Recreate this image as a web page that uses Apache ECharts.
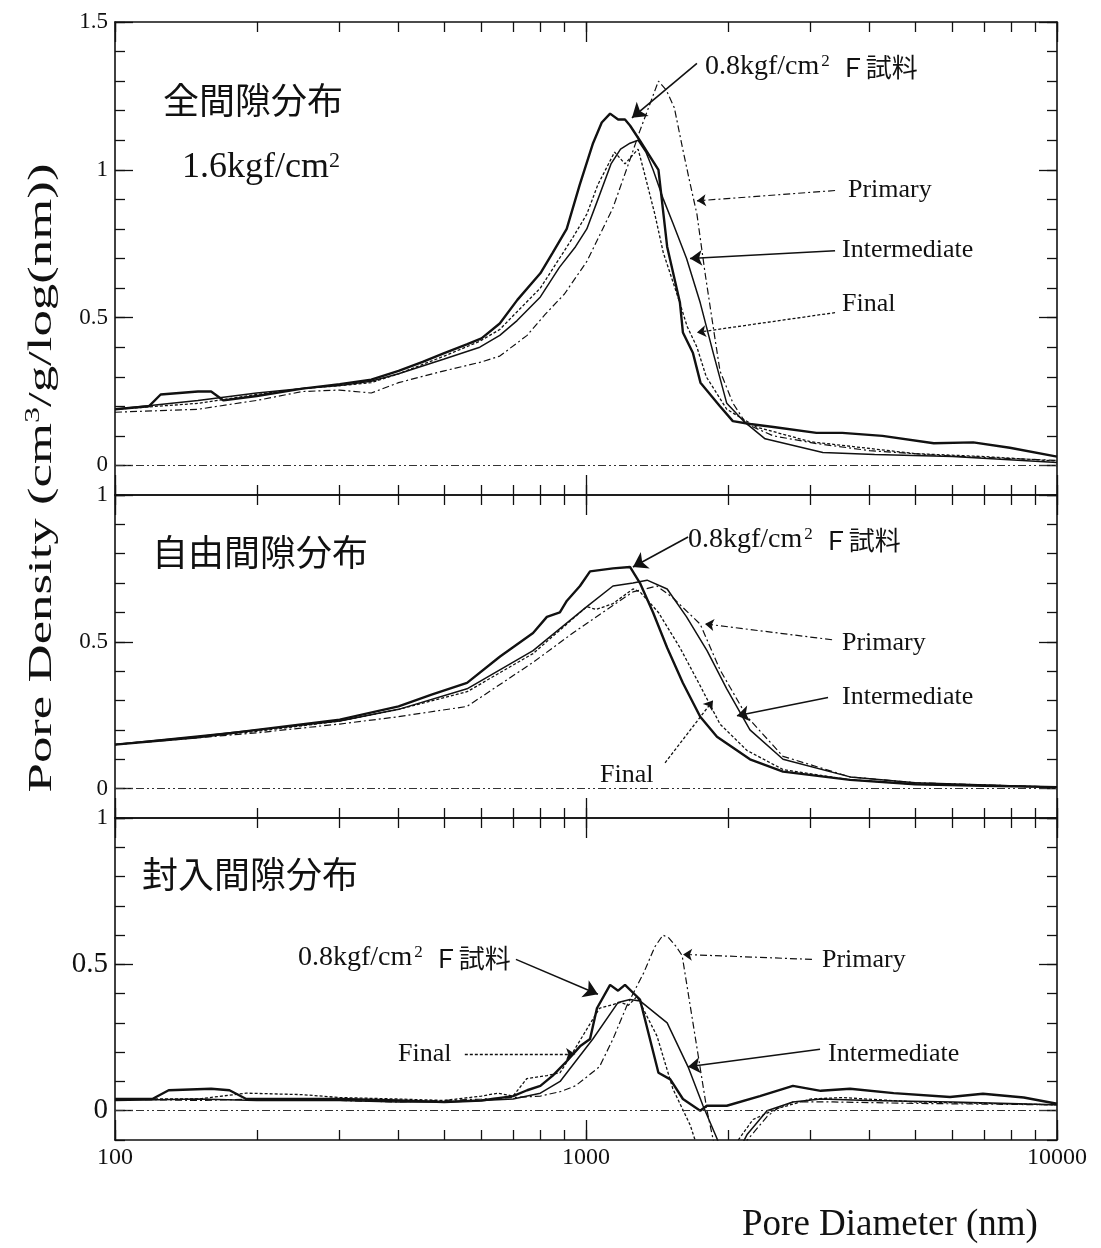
<!DOCTYPE html>
<html>
<head>
<meta charset="utf-8">
<script src="https://cdn.jsdelivr.net/npm/echarts@6.0.0/dist/echarts.min.js"></script>
<style>
html, body { margin: 0; padding: 0; background: #fff; }
#main { width: 1101px; height: 1248px; }
</style>
</head>
<body>
<div id="main"></div>
<script>
// pore density curves (x: pore diameter nm, y: density)
var totalF08 = [[100,0.19],[118,0.20],[125,0.24],[150,0.25],[160,0.25],[170,0.22],[200,0.235],[250,0.26],[300,0.275],[350,0.29],[400,0.32],[450,0.35],[500,0.38],[560,0.41],[600,0.43],[656,0.48],[715,0.56],[800,0.65],[850,0.72],[910,0.80],[970,0.95],[1035,1.09],[1080,1.16],[1125,1.19],[1170,1.17],[1210,1.17],[1240,1.15],[1300,1.10],[1425,1.0],[1487,0.74],[1583,0.55],[1606,0.45],[1687,0.38],[1750,0.28],[1925,0.20],[2050,0.15],[2230,0.14],[2500,0.13],[3085,0.11],[3500,0.11],[4260,0.10],[5475,0.075],[6640,0.078],[7940,0.06],[10000,0.03]];
var totalPrimary = [[100,0.18],[150,0.19],[200,0.22],[250,0.25],[300,0.255],[350,0.245],[400,0.28],[500,0.32],[600,0.35],[656,0.37],[750,0.44],[818,0.51],[900,0.58],[1004,0.69],[1140,0.87],[1237,1.03],[1300,1.13],[1425,1.30],[1480,1.27],[1540,1.21],[1600,1.08],[1660,0.96],[1720,0.85],[1790,0.65],[1870,0.45],[1925,0.32],[2052,0.21],[2190,0.14],[2500,0.10],[3085,0.074],[4000,0.05],[5600,0.034],[7500,0.025],[10000,0.017]];
var totalIntermediate = [[100,0.19],[150,0.22],[200,0.245],[250,0.26],[300,0.27],[350,0.285],[400,0.31],[500,0.36],[595,0.40],[656,0.44],[714,0.49],[800,0.57],[878,0.67],[950,0.74],[1004,0.80],[1060,0.90],[1130,1.02],[1184,1.07],[1240,1.09],[1290,1.10],[1340,1.06],[1388,1.00],[1460,0.90],[1529,0.82],[1635,0.70],[1748,0.55],[1863,0.38],[1990,0.21],[2160,0.15],[2400,0.09],[3183,0.044],[4100,0.037],[6000,0.03],[10000,0.01]];
var totalFinal = [[100,0.19],[150,0.21],[200,0.24],[250,0.26],[300,0.27],[350,0.28],[400,0.31],[500,0.37],[595,0.42],[656,0.46],[714,0.52],[800,0.60],[878,0.70],[937,0.77],[1004,0.85],[1060,0.95],[1150,1.06],[1210,1.02],[1290,1.07],[1325,1.0],[1400,0.85],[1459,0.72],[1560,0.58],[1640,0.47],[1720,0.40],[1800,0.30],[1990,0.19],[2300,0.13],[3000,0.08],[5000,0.04],[7000,0.03],[10000,0.015]];

var freeF08 = [[100,0.15],[150,0.175],[200,0.20],[300,0.235],[400,0.28],[470,0.32],[559,0.36],[657,0.45],[772,0.53],[826,0.585],[880,0.60],[911,0.64],[971,0.69],[1020,0.74],[1141,0.75],[1240,0.755],[1302,0.70],[1388,0.60],[1487,0.48],[1606,0.36],[1748,0.245],[1897,0.177],[2229,0.10],[2620,0.058],[3636,0.03],[5000,0.015],[7000,0.01],[10000,0.005]];
var freePrimary = [[100,0.15],[200,0.19],[300,0.22],[400,0.245],[559,0.28],[772,0.43],[938,0.53],[1108,0.61],[1258,0.67],[1415,0.69],[1529,0.65],[1748,0.56],[1925,0.405],[2197,0.245],[2620,0.11],[3636,0.04],[5000,0.02],[10000,0.005]];
var freeIntermediate = [[100,0.15],[200,0.20],[300,0.23],[400,0.27],[559,0.34],[772,0.47],[1004,0.62],[1141,0.69],[1258,0.70],[1348,0.71],[1487,0.68],[1635,0.585],[1807,0.47],[1990,0.34],[2229,0.20],[2620,0.10],[3636,0.04],[5000,0.02],[10000,0.005]];
var freeFinal = [[100,0.15],[200,0.195],[300,0.23],[400,0.27],[559,0.33],[772,0.46],[1004,0.62],[1050,0.61],[1141,0.63],[1258,0.68],[1302,0.67],[1425,0.60],[1583,0.48],[1748,0.35],[1925,0.22],[2197,0.13],[2620,0.065],[3636,0.03],[5000,0.015],[10000,0.005]];

var sealedF08 = [[100,0.04],[120,0.04],[130,0.07],[160,0.075],[175,0.07],[190,0.04],[300,0.04],[400,0.035],[500,0.03],[600,0.035],[700,0.05],[750,0.07],[800,0.085],[850,0.12],[911,0.17],[971,0.22],[1020,0.245],[1055,0.35],[1125,0.43],[1170,0.41],[1210,0.43],[1302,0.38],[1425,0.13],[1510,0.107],[1606,0.04],[1748,0.0],[1805,0.017],[1990,0.017],[2340,0.05],[2750,0.085],[3150,0.068],[3636,0.075],[4500,0.06],[5926,0.047],[6963,0.058],[8500,0.045],[10000,0.024]];
var sealedPrimary = [[100,0.04],[150,0.035],[200,0.04],[300,0.035],[400,0.03],[500,0.035],[600,0.04],[700,0.045],[800,0.05],[881,0.065],[950,0.085],[1068,0.15],[1141,0.245],[1222,0.36],[1325,0.47],[1400,0.56],[1457,0.60],[1500,0.59],[1555,0.56],[1600,0.53],[1687,0.30],[1807,0.0],[1863,-0.1],[1900,-0.2],[2100,-0.2],[2200,-0.1],[2423,-0.02],[2544,0.007],[2750,0.03],[3345,0.03],[5000,0.025],[10000,0.02]];
var sealedIntermediate = [[100,0.035],[150,0.04],[200,0.035],[300,0.035],[400,0.03],[500,0.03],[600,0.035],[700,0.04],[800,0.06],[881,0.10],[1034,0.245],[1170,0.37],[1240,0.38],[1302,0.375],[1487,0.30],[1647,0.15],[1772,0.017],[1897,-0.095],[1950,-0.15],[2090,-0.15],[2200,-0.08],[2423,0.0],[2750,0.03],[3150,0.04],[4000,0.035],[6000,0.03],[10000,0.02]];
var sealedFinal = [[100,0.04],[150,0.04],[190,0.06],[250,0.055],[300,0.045],[400,0.04],[500,0.035],[600,0.05],[650,0.06],[700,0.05],[749,0.11],[826,0.12],[881,0.13],[938,0.20],[1068,0.35],[1184,0.37],[1230,0.36],[1283,0.39],[1415,0.255],[1529,0.075],[1665,-0.05],[1720,-0.12],[2000,-0.15],[2262,-0.03],[2544,0.007],[3000,0.04],[3500,0.045],[5000,0.03],[10000,0.02]];

// annotation arrows (label end -> curve), same order as series: F08, Primary, Intermediate, Final
var totalArrows = [[[1720,1.36],[1252,1.176]], [[3379,0.93],[1720,0.895]], [[3379,0.726],[1663,0.70]], [[3379,0.517],[1720,0.45]]];
var freeArrows = [[[1647,0.857],[1258,0.755]], [[3330,0.507],[1789,0.561]], [[3265,0.31],[2092,0.248]], [[1472,0.088],[1860,0.30]]];
var sealedArrows = [[[710,0.517],[1060,0.398]], [[3018,0.517],[1607,0.534]], [[3140,0.21],[1647,0.15]], [[553,0.194],[948,0.194]]];

var seriesNames = ['0.8kgf/cm² F試料', 'Primary', 'Intermediate', 'Final'];
var xMinorTicks = [100,200,300,400,500,600,700,800,900,1000,2000,3000,4000,5000,6000,7000,8000,9000,10000];
var xMajorTicks = [100,1000,10000];
var xLabels = [100,1000,10000];
var yMinorTicks = [-0.1,0,0.1,0.2,0.3,0.4,0.5,0.6,0.7,0.8,0.9,1,1.1,1.2,1.3,1.4,1.5];
var yMajorTicks = [0,0.5,1,1.5];

var SERIF = '"Liberation Serif", "DejaVu Serif", serif';
var CJK = '"Noto Sans CJK JP", "Noto Sans CJK SC", sans-serif';
var INK = '#111';

var panels = [
  { top: 22, height: 473, yMax: 1.5, data: [totalF08, totalPrimary, totalIntermediate, totalFinal], arrows: totalArrows },
  { top: 495, height: 323, yMax: 1, data: [freeF08, freePrimary, freeIntermediate, freeFinal], arrows: freeArrows },
  { top: 818, height: 322, yMax: 1, data: [sealedF08, sealedPrimary, sealedIntermediate, sealedFinal], arrows: sealedArrows }
];

var lineLooks = [
  { width: 2.4, type: 'solid', head: 14 },
  { width: 1.2, type: [7, 3, 2, 3], head: 9 },
  { width: 1.5, type: 'solid', head: 12 },
  { width: 1.3, type: [3, 2], head: 9 }
];

var grids = [], xAxes = [], yAxes = [], series = [];

function xAxisDef(gi, pos, ticks, len, showLine, labels) {
  return {
    type: 'log', logBase: 10, gridIndex: gi, position: pos, min: 100, max: 10000,
    axisLine: { show: showLine, onZero: false, lineStyle: { color: INK, width: 1.6 } },
    axisTick: { show: true, inside: true, length: len, customValues: ticks, lineStyle: { color: INK, width: 1.3 } },
    axisLabel: labels ? {
      show: true, customValues: labels, fontFamily: SERIF, fontSize: 24, color: INK, margin: 6,
      formatter: function (v) { return String(Math.round(v)); }
    } : { show: false },
    splitLine: { show: false }
  };
}

function yAxisDef(gi, pos, yMax, ticks, len, showLine, withLabels) {
  var labelVals = yMajorTicks.filter(function (v) { return v <= yMax; });
  var label = { show: false };
  if (withLabels) {
    label = {
      show: true, customValues: labelVals, fontFamily: SERIF, color: INK, margin: 7, fontSize: 22,
      formatter: function (v) {
        if (gi === 2 && v !== 1) return '{b|' + v + '}';
        return '{a|' + v + '}';
      },
      rich: { a: { fontSize: 23, fontFamily: SERIF, color: INK }, b: { fontSize: 29, fontFamily: SERIF, color: INK } }
    };
  }
  return {
    type: 'value', gridIndex: gi, position: pos, min: -0.1, max: yMax,
    axisLine: { show: showLine, onZero: false, lineStyle: { color: INK, width: 1.6 } },
    axisTick: { show: true, inside: true, length: len, customValues: ticks.filter(function (v) { return v <= yMax + 1e-9; }), lineStyle: { color: INK, width: 1.3 } },
    axisLabel: label,
    splitLine: { show: false }
  };
}

panels.forEach(function (p, gi) {
  grids.push({ left: 115, right: 44, top: p.top, height: p.height });
  var xBase = xAxes.length, yBase = yAxes.length;
  xAxes.push(xAxisDef(gi, 'bottom', xMinorTicks, 10, true, gi === 2 ? xLabels : null));
  xAxes.push(xAxisDef(gi, 'bottom', xMajorTicks, 20, false, null));
  xAxes.push(xAxisDef(gi, 'top', xMinorTicks, 10, true, null));
  xAxes.push(xAxisDef(gi, 'top', xMajorTicks, 20, false, null));
  yAxes.push(yAxisDef(gi, 'left', p.yMax, yMinorTicks, 10, true, true));
  yAxes.push(yAxisDef(gi, 'left', p.yMax, yMajorTicks, 18, false, false));
  yAxes.push(yAxisDef(gi, 'right', p.yMax, yMinorTicks, 10, true, false));
  yAxes.push(yAxisDef(gi, 'right', p.yMax, yMajorTicks, 18, false, false));

  // draw order: Primary, Final, Intermediate, F08 on top
  [1, 3, 2, 0].forEach(function (k) {
    var look = lineLooks[k];
    var a = p.arrows[k];
    var mlData = [[{ coord: a[0], symbol: 'none' }, { coord: a[1], symbol: 'arrow' }]];
    if (k === 1) {
      // dash-dot-dot zero reference line, no arrowheads
      mlData.push([
        { xAxis: 100, yAxis: 0, symbol: 'none', lineStyle: { color: '#333', width: 1, type: [8, 3, 2, 3, 2, 3] } },
        { xAxis: 10000, yAxis: 0, symbol: 'none' }
      ]);
    }
    series.push({
      name: seriesNames[k],
      type: 'line',
      xAxisIndex: xBase,
      yAxisIndex: yBase,
      data: p.data[k],
      showSymbol: false,
      symbol: 'none',
      smooth: false,
      clip: true,
      lineStyle: { color: INK, width: look.width, type: look.type },
      markLine: {
        silent: true,
        symbol: ['none', 'none'],
        symbolSize: look.head,
        label: { show: false },
        itemStyle: { color: INK },
        lineStyle: { color: INK, width: Math.min(look.width, 1.6), type: look.type },
        data: mlData
      }
    });
  });
});

function txt(x, y, text, size, font, rich) {
  return {
    type: 'text', x: x, y: y, silent: true,
    style: { text: text, fontSize: size, fontFamily: font, fill: INK, textVerticalAlign: 'middle', rich: rich || {} }
  };
}

var f08Rich = {
  n: { fontSize: 28, fontFamily: SERIF, fill: INK },
  s: { fontSize: 17, fontFamily: SERIF, fill: INK, verticalAlign: 'top', lineHeight: 16, padding: [0, 0, 0, 2] },
  j: { fontSize: 26, fontFamily: CJK, fill: INK, padding: [0, 0, 0, 10] }
};
var f08Text = '{n|0.8kgf/cm}{s|2}{j|Ｆ試料}';
var pressRich = {
  n: { fontSize: 36, fontFamily: SERIF, fill: INK },
  s: { fontSize: 22, fontFamily: SERIF, fill: INK, verticalAlign: 'top', lineHeight: 20 }
};

var graphics = [
  txt(163, 100, '全間隙分布', 36, CJK),
  txt(182, 168, '{n|1.6kgf/cm}{s|2}', 36, SERIF, pressRich),
  txt(705, 67, f08Text, 28, SERIF, f08Rich),
  txt(848, 190, 'Primary', 26, SERIF),
  txt(842, 250, 'Intermediate', 26, SERIF),
  txt(842, 304, 'Final', 26, SERIF),

  txt(152, 552, '自由間隙分布', 36, CJK),
  txt(688, 540, f08Text, 28, SERIF, f08Rich),
  txt(842, 643, 'Primary', 26, SERIF),
  txt(842, 697, 'Intermediate', 26, SERIF),
  txt(600, 775, 'Final', 26, SERIF),

  txt(142, 874, '封入間隙分布', 36, CJK),
  txt(298, 958, f08Text, 28, SERIF, f08Rich),
  txt(822, 960, 'Primary', 26, SERIF),
  txt(828, 1054, 'Intermediate', 26, SERIF),
  txt(398, 1054, 'Final', 26, SERIF),

  {
    type: 'text', x: 742, y: 1225, silent: true,
    style: { text: 'Pore Diameter (nm)', fontSize: 37, fontFamily: SERIF, fill: INK, textVerticalAlign: 'middle' }
  },
  {
    type: 'text', x: 42, y: 478, rotation: Math.PI / 2, scaleX: 1.6, silent: true,
    style: {
      text: '{n|Pore Density (cm}{s|3}{n|/g/log(nm))}',
      textAlign: 'center', textVerticalAlign: 'middle',
      rich: {
        n: { fontSize: 33, fontFamily: SERIF, fill: INK, lineHeight: 36 },
        s: { fontSize: 20, fontFamily: SERIF, fill: INK, verticalAlign: 'top', lineHeight: 20 }
      }
    }
  }
];

var chart = echarts.init(document.getElementById('main'), null, { renderer: 'canvas' });
chart.setOption({
  backgroundColor: '#fff',
  animation: false,
  grid: grids,
  xAxis: xAxes,
  yAxis: yAxes,
  series: series,
  graphic: graphics
});
</script>
</body>
</html>
